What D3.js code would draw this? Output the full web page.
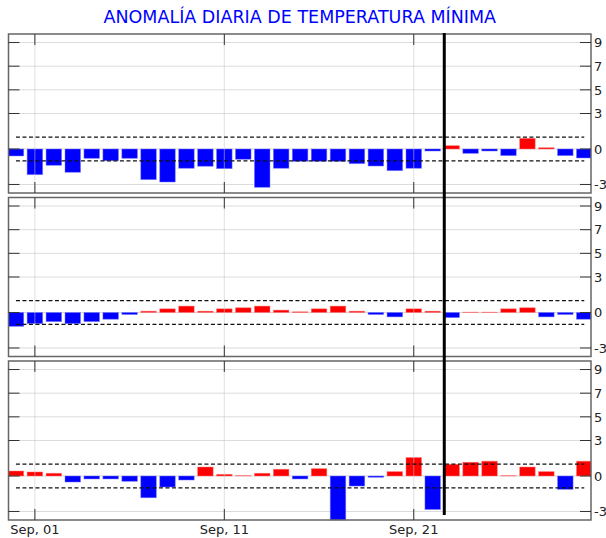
<!DOCTYPE html>
<html>
<head>
<meta charset="utf-8">
<script src="https://cdn.jsdelivr.net/npm/d3@7"></script>
<style>
  body { margin: 0; background: #fff; }
  text { font-family: "DejaVu Sans", sans-serif; }
</style>
</head>
<body>
<script>
// Days shown: Aug 31 .. Sep 30
const days = d3.timeDay.range(new Date(2023, 7, 31), new Date(2023, 9, 1));

// Daily anomaly of minimum temperature, one array per panel
const panel1 = [-0.59, -2.17, -1.38, -1.97, -0.79, -0.99, -0.79, -2.59, -2.79, -1.63, -1.46,
                -1.66, -0.87, -3.24, -1.63, -1.04, -1.04, -1.04, -1.24, -1.44, -1.83, -1.63,
                -0.17, 0.28, -0.37, -0.17, -0.56, 0.90, 0.11, -0.56, -0.76];
const panel2 = [-1.17, -0.94, -0.77, -0.94, -0.77, -0.57, -0.17, 0.11, 0.31, 0.54, 0.11,
                0.31, 0.40, 0.54, 0.20, 0.06, 0.31, 0.54, 0.11, -0.17, -0.37, 0.31,
                0.11, -0.43, 0.03, 0.03, 0.31, 0.40, -0.37, -0.17, -0.57];
const panel3 = [0.42, 0.34, 0.23, -0.51, -0.25, -0.25, -0.45, -1.84, -0.93, -0.34, 0.76,
                0.14, 0.03, 0.23, 0.57, -0.25, 0.62, -3.9, -0.85, -0.11, 0.37, 1.56,
                -2.83, 0.99, 1.16, 1.25, 0.03, 0.76, 0.37, -1.13, 1.25];
const series = [panel1, panel2, panel3];

const yTicks = [9, 7, 5, 3, 0, -3];
const xTicks = [new Date(2023, 8, 1), new Date(2023, 8, 11), new Date(2023, 8, 21)];
const thresholds = [1, -1];
const nowMark = new Date(2023, 8, 22, 14, 40);

const width = 606, height = 538;
const left = 8.5, right = 591;
const panelTops = [34, 197.5, 361];
const panelH = 159;

const svg = d3.select("body").append("svg")
    .attr("width", width)
    .attr("height", height);

// Title
svg.append("text")
    .attr("x", (left + right) / 2)
    .attr("y", 23)
    .attr("text-anchor", "middle")
    .style("font-size", "17.5px")
    .style("fill", "#0000ff")
    .text("ANOMALÍA DIARIA DE TEMPERATURA MÍNIMA");

// Shared time scale
const x = d3.scaleTime()
    .domain([new Date(2023, 7, 30, 14, 34), new Date(2023, 8, 30, 8, 33)])
    .range([left, right]);

const dayPx = x(new Date(2023, 8, 2)) - x(new Date(2023, 8, 1));
const barW = dayPx * 0.82;

svg.append("defs").append("clipPath")
    .attr("id", "clip")
    .append("rect")
    .attr("x", left).attr("y", 0)
    .attr("width", right - left).attr("height", height);

series.forEach(function(values, i) {
    const top = panelTops[i];
    const y = d3.scaleLinear()
        .domain([-3.72, 9.72])
        .range([top + panelH, top]);

    const g = svg.append("g");

    // Horizontal grid lines
    g.selectAll(".hgrid")
        .data(yTicks)
        .enter().append("line")
        .attr("x1", left).attr("x2", right)
        .attr("y1", d => y(d)).attr("y2", d => y(d))
        .attr("stroke", "#dcdcdc").attr("stroke-width", 1);

    // Bars
    const bars = g.append("g").attr("clip-path", "url(#clip)");
    bars.selectAll("rect")
        .data(values)
        .enter().append("rect")
        .attr("x", (d, j) => x(days[j]) - barW / 2)
        .attr("width", barW)
        .attr("y", d => Math.max(top, y(Math.max(0, d))))
        .attr("height", d => Math.min(top + panelH, y(Math.min(0, d))) - Math.max(top, y(Math.max(0, d))))
        .attr("fill", d => d >= 0 ? "#ff0000" : "#0000ff")
        .attr("stroke", d => d >= 0 ? "rgba(255,120,120,0.6)" : "rgba(120,120,255,0.6)")
        .attr("stroke-width", 0.8);

    // Vertical grid lines (drawn over the bars, faint)
    g.selectAll(".vgrid")
        .data(xTicks)
        .enter().append("line")
        .attr("x1", d => x(d)).attr("x2", d => x(d))
        .attr("y1", top).attr("y2", top + panelH)
        .attr("stroke", "rgba(200,200,200,0.55)").attr("stroke-width", 1);

    // Dashed +/-1 lines
    g.selectAll(".thr")
        .data(thresholds)
        .enter().append("line")
        .attr("x1", x(days[0])).attr("x2", x(days[days.length - 1]))
        .attr("y1", d => y(d)).attr("y2", d => y(d))
        .attr("stroke", "#111")
        .attr("stroke-width", 1.3)
        .attr("stroke-dasharray", "4,2.5");

    // Frame
    g.append("rect")
        .attr("x", left).attr("y", top)
        .attr("width", right - left).attr("height", panelH)
        .attr("fill", "none")
        .attr("stroke", "#666")
        .attr("stroke-width", 1.5);

    // Inner ticks, left and right
    yTicks.forEach(function(t) {
        g.append("line")
            .attr("x1", left).attr("x2", left + 11)
            .attr("y1", y(t)).attr("y2", y(t))
            .attr("stroke", "#333").attr("stroke-width", 1);
        g.append("line")
            .attr("x1", right - 11).attr("x2", right)
            .attr("y1", y(t)).attr("y2", y(t))
            .attr("stroke", "#333").attr("stroke-width", 1);
        g.append("text")
            .attr("x", right + 3)
            .attr("y", y(t))
            .attr("dy", "0.36em")
            .style("font-size", "13px")
            .style("fill", "#222")
            .text(t);
    });

    // Inner ticks, top and bottom
    xTicks.forEach(function(t) {
        g.append("line")
            .attr("x1", x(t)).attr("x2", x(t))
            .attr("y1", top).attr("y2", top + 11)
            .attr("stroke", "#333").attr("stroke-width", 1);
        g.append("line")
            .attr("x1", x(t)).attr("x2", x(t))
            .attr("y1", top + panelH - 11).attr("y2", top + panelH)
            .attr("stroke", "#333").attr("stroke-width", 1);
    });
});

// Date labels under the last panel
const fmt = d3.timeFormat("%b, %d");
svg.selectAll(".xlabel")
    .data(xTicks)
    .enter().append("text")
    .attr("x", d => x(d))
    .attr("y", 534)
    .attr("text-anchor", "middle")
    .style("font-size", "13px")
    .style("fill", "#222")
    .text(d => fmt(d));

// Vertical marker line through all panels
svg.append("line")
    .attr("x1", x(nowMark)).attr("x2", x(nowMark))
    .attr("y1", 33).attr("y2", 515)
    .attr("stroke", "#000")
    .attr("stroke-width", 3);
</script>
</body>
</html>
